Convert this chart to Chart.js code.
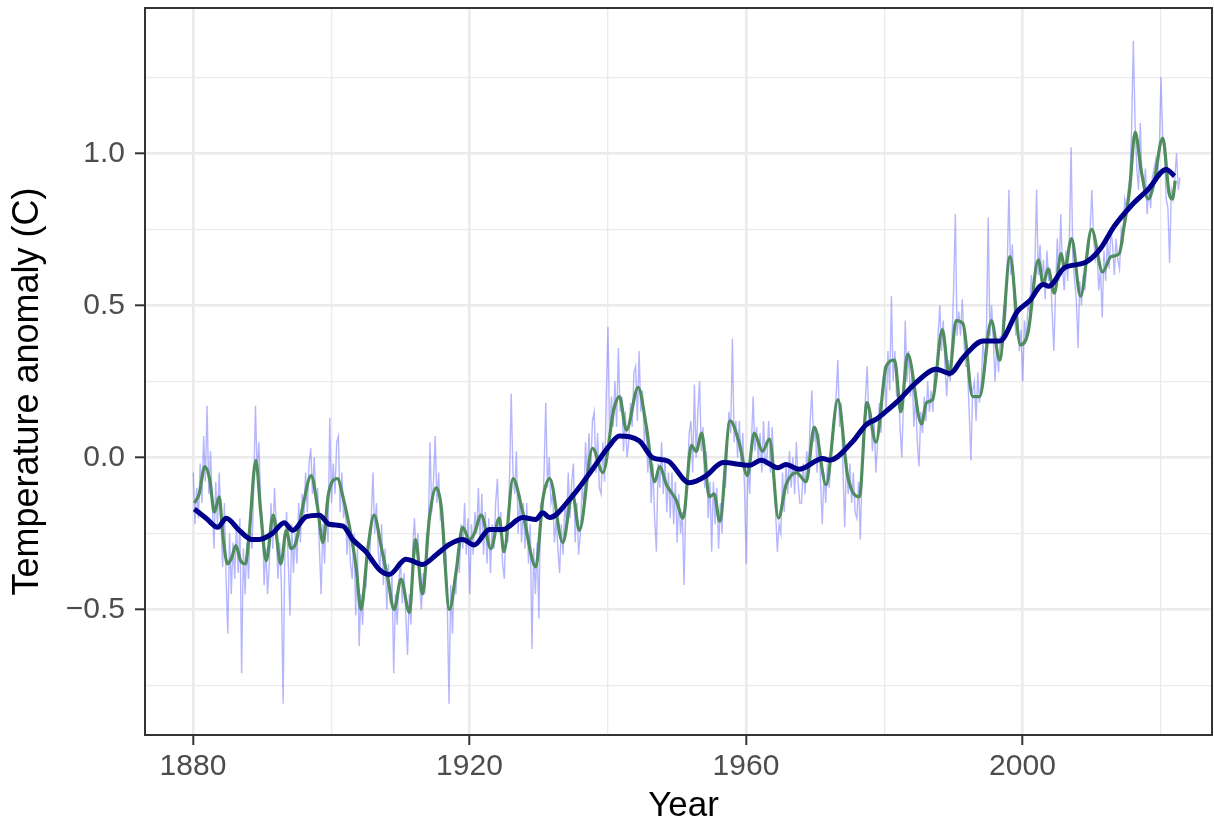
<!DOCTYPE html>
<html>
<head>
<meta charset="utf-8">
<script src="https://cdn.jsdelivr.net/npm/chart.js@4.4.1/dist/chart.umd.min.js"></script>
<style>
  html, body { margin: 0; padding: 0; background: #fff; }
  #wrap { width: 1214px; height: 826px; }
</style>
</head>
<body>
<div id="wrap"><canvas id="temp-chart"></canvas></div>
<script>
// monthly anomaly, sampled four times a year from 1880
const monthlyStart = 1880.04
const monthlyAnom = [
  -0.05, -0.22, -0.10, -0.20,
  -0.02, -0.15, 0.07, -0.08,
  0.17, -0.12, 0.02, -0.15,
  -0.30, -0.08, -0.22, -0.05,
  -0.20, -0.36, -0.15, -0.40,
  -0.58, -0.25, -0.45, -0.28,
  -0.40, -0.22, -0.38, -0.20,
  -0.71, -0.30, -0.45, -0.28,
  -0.40, -0.22, -0.30, -0.10,
  0.17, -0.05, 0.05, -0.15,
  -0.20, -0.42, -0.30, -0.45,
  -0.35, -0.15, -0.30, -0.10,
  -0.22, -0.40, -0.28, -0.42,
  -0.81, -0.30, -0.18, -0.35,
  -0.52, -0.22, -0.38, -0.25,
  -0.35, -0.15, -0.28, -0.12,
  -0.20, -0.05, -0.18, -0.02,
  0.03, -0.12, 0.00, -0.15,
  -0.10, -0.30, -0.45, -0.22,
  -0.35, -0.15, -0.28, 0.13,
  -0.15, -0.02, -0.12, 0.05,
  0.07, -0.18, -0.05, -0.20,
  -0.15, -0.32, -0.22, -0.35,
  -0.40, -0.25, -0.52, -0.30,
  -0.62, -0.45, -0.55, -0.40,
  -0.42, -0.28, -0.35, -0.20,
  -0.05, -0.25, -0.15, -0.30,
  -0.38, -0.22, -0.42, -0.30,
  -0.50, -0.35, -0.48, -0.38,
  -0.71, -0.45, -0.55, -0.40,
  -0.35, -0.48, -0.38, -0.52,
  -0.65, -0.45, -0.55, -0.30,
  -0.20, -0.32, -0.25, -0.42,
  -0.50, -0.38, -0.45, -0.25,
  -0.25, 0.05, -0.18, -0.08,
  0.07, -0.15, -0.05, -0.20,
  -0.18, -0.35, -0.28, -0.48,
  -0.81, -0.42, -0.58, -0.40,
  -0.45, -0.30, -0.38, -0.22,
  -0.30, -0.15, -0.32, -0.20,
  -0.45, -0.22, -0.32, -0.18,
  -0.25, -0.10, -0.28, -0.12,
  -0.32, -0.18, -0.35, -0.20,
  -0.38, -0.22, -0.30, -0.15,
  -0.07, -0.25, -0.18, -0.35,
  -0.40, -0.22, -0.28, -0.08,
  0.21, -0.05, -0.12, 0.02,
  -0.25, -0.12, -0.28, -0.15,
  -0.30, -0.15, -0.35, -0.22,
  -0.63, -0.30, -0.45, -0.28,
  -0.53, -0.15, -0.20, -0.05,
  0.18, -0.10, 0.00, -0.15,
  -0.12, -0.28, -0.20, -0.30,
  -0.38, -0.22, -0.32, -0.15,
  -0.22, -0.05, -0.20, -0.08,
  -0.02, -0.28, -0.15, -0.32,
  -0.25, -0.10, -0.15, 0.05,
  -0.08, 0.08, -0.05, 0.12,
  0.15, -0.05, 0.08, -0.10,
  -0.12, 0.05, -0.08, 0.20,
  0.43, 0.05, 0.20, 0.10,
  0.25, 0.10, 0.36, 0.15,
  0.20, 0.02, 0.15, 0.00,
  0.05, 0.18, 0.10, 0.28,
  0.30, 0.12, 0.35, 0.15,
  0.22, 0.05, 0.12, -0.05,
  0.05, -0.15, -0.02, -0.20,
  -0.31, -0.02, -0.10, 0.05,
  -0.12, 0.00, -0.18, -0.05,
  -0.20, -0.05, -0.22, -0.08,
  -0.28, -0.12, -0.25, -0.18,
  -0.42, -0.15, -0.05, 0.08,
  0.12, -0.05, 0.24, 0.00,
  0.15, 0.25, 0.02, 0.10,
  -0.10, 0.02, -0.20, -0.08,
  -0.31, -0.08, -0.22, -0.10,
  -0.30, -0.15, -0.25, -0.05,
  -0.10, 0.05, 0.15, 0.08,
  0.39, 0.05, 0.12, 0.00,
  0.12, -0.02, 0.08, -0.10,
  -0.35, -0.02, -0.12, 0.05,
  0.20, 0.02, 0.10, -0.02,
  0.08, -0.05, 0.12, -0.02,
  0.00, 0.12, -0.05, 0.10,
  -0.05, -0.18, -0.31, -0.22,
  -0.25, -0.05, -0.18, -0.02,
  -0.12, 0.02, -0.10, 0.00,
  -0.12, 0.05, -0.08, -0.15,
  -0.15, -0.02, -0.12, 0.02,
  -0.05, 0.12, 0.22, 0.05,
  0.10, -0.05, 0.08, -0.08,
  -0.22, -0.05, -0.15, -0.02,
  -0.10, 0.00, 0.08, 0.15,
  0.20, 0.32, 0.10, 0.18,
  -0.05, -0.23, 0.00, -0.12,
  -0.02, -0.15, -0.05, -0.18,
  -0.20, -0.08, -0.27, -0.05,
  0.05, 0.20, 0.30, 0.10,
  0.15, 0.02, 0.12, -0.05,
  0.05, 0.18, 0.08, 0.25,
  0.30, 0.15, 0.35, 0.22,
  0.53, 0.25, 0.35, 0.20,
  0.25, 0.10, 0.00, 0.18,
  0.45, 0.25, 0.35, 0.20,
  0.28, 0.10, 0.20, 0.05,
  -0.03, 0.15, 0.08, 0.20,
  0.12, 0.25, 0.15, 0.22,
  0.15, 0.30, 0.25, 0.40,
  0.50, 0.35, 0.45, 0.30,
  0.20, 0.32, 0.25, 0.38,
  0.55, 0.80, 0.40, 0.48,
  0.40, 0.52, 0.38, 0.30,
  0.30, 0.15, -0.01, 0.22,
  0.25, 0.12, 0.28, 0.18,
  0.25, 0.38, 0.30, 0.42,
  0.79, 0.40, 0.50, 0.38,
  0.25, 0.38, 0.28, 0.40,
  0.35, 0.50, 0.45, 0.62,
  0.88, 0.60, 0.70, 0.50,
  0.40, 0.48, 0.35, 0.42,
  0.25, 0.45, 0.38, 0.50,
  0.48, 0.60, 0.52, 0.62,
  0.88, 0.60, 0.70, 0.58,
  0.65, 0.52, 0.68, 0.58,
  0.62, 0.48, 0.35, 0.55,
  0.72, 0.58, 0.80, 0.62,
  0.55, 0.68, 0.58, 0.72,
  1.02, 0.65, 0.58, 0.52,
  0.36, 0.58, 0.50, 0.60,
  0.55, 0.65, 0.68, 0.75,
  0.88, 0.72, 0.65, 0.68,
  0.55, 0.62, 0.46, 0.68,
  0.58, 0.72, 0.62, 0.75,
  0.70, 0.60, 0.72, 0.65,
  0.62, 0.75, 0.72, 0.85,
  0.82, 0.88, 0.92, 1.08,
  1.37, 1.10, 0.95, 0.88,
  1.10, 0.92, 0.88, 0.95,
  0.80, 0.90, 0.82, 0.92,
  0.95, 0.98, 0.92, 1.01,
  1.25, 1.05, 1.00, 0.85,
  0.82, 0.64, 0.88, 0.85,
  0.92, 1.00, 0.88, 0.92,
]

// short-term smooth (green)
const shortYears = [
  1880.2, 1880.9, 1881.7, 1882.4, 1883.1, 1883.8, 1884.3, 1885.0, 1885.6, 1886.2,
  1886.9, 1887.6, 1888.1, 1889.1, 1889.8, 1890.6, 1891.6, 1892.7, 1893.5, 1894.2,
  1894.9, 1895.9, 1897.1, 1898.0, 1898.8, 1899.6, 1900.9, 1901.7, 1902.9, 1903.6,
  1904.3, 1905.3, 1906.2, 1907.2, 1908.2, 1909.1, 1910.1, 1911.3, 1912.2, 1913.2,
  1914.2, 1915.2, 1915.9, 1917.1, 1918.1, 1919.0, 1920.0, 1920.7, 1921.7, 1923.1,
  1924.3, 1925.0, 1926.3, 1927.7, 1929.6, 1930.6, 1931.6, 1933.5, 1934.9, 1935.9,
  1937.8, 1939.3, 1940.9, 1941.7, 1942.7, 1944.4, 1945.6, 1946.8, 1947.5, 1948.5,
  1949.9, 1950.9, 1952.1, 1952.8, 1953.6, 1954.7, 1955.4, 1956.2, 1957.7, 1959.0,
  1960.2, 1961.2, 1962.4, 1963.4, 1964.7, 1965.8, 1967.3, 1968.7, 1969.9, 1971.6,
  1973.3, 1974.7, 1976.4, 1977.5, 1978.8, 1980.3, 1981.5, 1982.4, 1983.4, 1985.4,
  1986.1, 1987.0, 1988.4, 1989.4, 1990.4, 1991.4, 1992.8, 1993.8, 1995.5, 1996.7,
  1998.2, 1999.7, 2000.8, 2002.3, 2003.0, 2003.7, 2004.6, 2005.6, 2006.1, 2007.1,
  2008.4, 2010.0, 2011.6, 2012.8, 2014.0, 2014.7, 2015.5, 2016.3, 2017.2, 2018.2,
  2018.9, 2020.3, 2021.2, 2021.7, 2022.1,
]
const shortAnom = [
  -0.15, -0.12, -0.03, -0.07, -0.18, -0.13, -0.25, -0.35, -0.33, -0.29,
  -0.34, -0.35, -0.26, -0.01, -0.18, -0.34, -0.19, -0.35, -0.24, -0.30,
  -0.28, -0.16, -0.06, -0.16, -0.28, -0.12, -0.07, -0.13, -0.26, -0.36,
  -0.50, -0.30, -0.19, -0.29, -0.40, -0.50, -0.40, -0.51, -0.27, -0.45,
  -0.20, -0.10, -0.16, -0.50, -0.37, -0.23, -0.27, -0.25, -0.19, -0.30,
  -0.20, -0.31, -0.07, -0.18, -0.36, -0.14, -0.07, -0.28, -0.12, -0.24,
  0.03, -0.05, 0.16, 0.20, 0.09, 0.23, 0.10, -0.08, -0.03, -0.09,
  -0.14, -0.20, 0.04, 0.02, 0.08, -0.13, -0.12, -0.21, 0.12, 0.05,
  -0.06, 0.08, 0.02, 0.06, -0.20, -0.09, -0.05, -0.08, 0.10, -0.09,
  0.19, -0.06, -0.13, 0.18, 0.05, 0.30, 0.32, 0.15, 0.34, 0.11,
  0.18, 0.19, 0.42, 0.27, 0.45, 0.44, 0.20, 0.20, 0.45, 0.32,
  0.66, 0.37, 0.41, 0.65, 0.57, 0.62, 0.54, 0.67, 0.62, 0.72,
  0.53, 0.75, 0.61, 0.66, 0.67, 0.76, 0.88, 1.07, 0.94, 0.85,
  0.89, 1.05, 0.87, 0.85, 0.91,
]

// long-term trend (navy)
const trendYears = [
  1880.2, 1881.9, 1883.6, 1884.8, 1886.7, 1888.5, 1889.6, 1891.5, 1893.2, 1894.4,
  1896.4, 1898.3, 1899.7, 1901.7, 1903.1, 1905.0, 1907.0, 1908.4, 1910.8, 1913.2,
  1915.2, 1917.1, 1919.0, 1920.7, 1922.9, 1924.8, 1927.7, 1929.6, 1930.6, 1931.6,
  1934.5, 1937.8, 1940.2, 1941.7, 1944.6, 1946.5, 1948.7, 1951.8, 1952.8, 1954.2,
  1956.7, 1960.5, 1962.2, 1964.6, 1965.8, 1967.7, 1971.1, 1972.1, 1975.5, 1977.4,
  1978.8, 1980.3, 1982.2, 1984.6, 1987.5, 1989.5, 1991.4, 1994.3, 1996.7, 1999.3,
  2001.0, 2003.0, 2003.8, 2006.1, 2009.0, 2011.2, 2013.3, 2015.7, 2018.2, 2020.8,
  2022.0,
]
const trendAnom = [
  -0.17, -0.20, -0.23, -0.20, -0.24, -0.27, -0.27, -0.25, -0.215, -0.24,
  -0.195, -0.19, -0.22, -0.226, -0.27, -0.31, -0.37, -0.385, -0.335, -0.352,
  -0.32, -0.286, -0.27, -0.288, -0.237, -0.237, -0.198, -0.204, -0.182, -0.198,
  -0.138, -0.039, 0.037, 0.07, 0.054, -0.001, -0.012, -0.083, -0.078, -0.061,
  -0.017, -0.026, -0.009, -0.034, -0.023, -0.039, -0.004, -0.009, 0.054, 0.108,
  0.125, 0.152, 0.19, 0.246, 0.29, 0.276, 0.328, 0.383, 0.383, 0.481,
  0.514, 0.569, 0.563, 0.624, 0.64, 0.684, 0.761, 0.827, 0.882, 0.947,
  0.925,
]

const yearTicks = [1880, 1900, 1920, 1940, 1960, 1980, 2000, 2020]
const anomTicks = [-0.75, -0.5, -0.25, 0, 0.25, 0.5, 0.75, 1.0, 1.25]

const isMajorYear = v => (v - 1880) % 40 === 0
const isMajorAnom = v => Math.abs(Math.round(v * 2) - v * 2) < 1e-6

const fontFamily = "'Liberation Sans', Arial, Helvetica, sans-serif"

// ggplot style panel border
const panelBorder = {
  id: 'panelBorder',
  afterDraw(chart) {
    const {ctx, chartArea: a} = chart
    ctx.save()
    ctx.strokeStyle = '#333333'
    ctx.lineWidth = 2
    ctx.strokeRect(a.left, a.top, a.right - a.left, a.bottom - a.top)
    ctx.restore()
  }
}

// axis titles, placed where the original has them (a little off the panel centre)
const axisTitles = {
  id: 'axisTitles',
  afterDraw(chart) {
    const {ctx, chartArea: a} = chart
    ctx.save()
    ctx.fillStyle = '#000000'
    ctx.textAlign = 'center'
    ctx.textBaseline = 'middle'
    ctx.font = '35px ' + fontFamily
    ctx.fillText('Year', (a.left + a.right) / 2 + 5, 806)
    ctx.translate(28, (a.top + a.bottom) / 2 + 20)
    ctx.rotate(-Math.PI / 2)
    ctx.font = '36px ' + fontFamily
    ctx.fillText('Temperature anomaly (C)', 0, 0)
    ctx.restore()
  }
}

// drop the half-label padding chart.js adds at the axis ends
const noEndPadding = s => {
  s.paddingTop = 0
  s.paddingBottom = 0
  s.paddingLeft = 0
  s.paddingRight = 0
}

const monthlyPoints = monthlyAnom.map((v, i) => ({x: monthlyStart + i * 0.25, y: v}))
const shortPoints = shortYears.map((yr, i) => ({x: yr, y: shortAnom[i]}))
const trendPoints = trendYears.map((yr, i) => ({x: yr, y: trendAnom[i]}))

const tempConfig = {
  type: 'line',
  data: {
    datasets: [
      {
        label: 'trend',
        data: trendPoints,
        borderColor: '#00008b',
        borderWidth: 5,
        pointRadius: 0,
        cubicInterpolationMode: 'monotone',
        order: 1,
      },
      {
        label: 'smooth',
        data: shortPoints,
        borderColor: '#4f8c5e',
        borderWidth: 3.2,
        pointRadius: 0,
        cubicInterpolationMode: 'monotone',
        order: 2,
      },
      {
        label: 'monthly',
        data: monthlyPoints,
        borderColor: 'rgba(80, 80, 255, 0.42)',
        borderWidth: 1.4,
        pointRadius: 0,
        tension: 0,
        order: 3,
      },
    ],
  },
  options: {
    responsive: true,
    maintainAspectRatio: false,
    animation: false,
    layout: {padding: {top: 8, right: 2, left: 0, bottom: 0}},
    plugins: {
      legend: {display: false},
      tooltip: {enabled: false},
    },
    scales: {
      x: {
        type: 'linear',
        min: 1873.06,
        max: 2027.42,
        afterFit: s => { s.height = 91; noEndPadding(s) },
        afterBuildTicks: s => { s.ticks = yearTicks.map(v => ({value: v})) },
        border: {display: false},
        grid: {
          color: '#ebebeb',
          lineWidth: c => isMajorYear(c.tick.value) ? 2.6 : 1.3,
          tickColor: c => isMajorYear(c.tick.value) ? '#333333' : 'rgba(0,0,0,0)',
          tickWidth: 2,
          tickLength: 10,
        },
        ticks: {
          autoSkip: false,
          maxRotation: 0,
          padding: 4,
          color: '#4d4d4d',
          font: {family: fontFamily, size: 30},
          callback: v => isMajorYear(v) ? String(v) : '',
        },
        title: {display: false},
      },
      y: {
        type: 'linear',
        min: -0.913,
        max: 1.478,
        afterFit: s => { s.width = 145; noEndPadding(s) },
        afterBuildTicks: s => { s.ticks = anomTicks.map(v => ({value: v})) },
        border: {display: false},
        grid: {
          color: '#ebebeb',
          lineWidth: c => isMajorAnom(c.tick.value) ? 2.6 : 1.3,
          tickColor: c => isMajorAnom(c.tick.value) ? '#333333' : 'rgba(0,0,0,0)',
          tickWidth: 2,
          tickLength: 10,
        },
        ticks: {
          autoSkip: false,
          padding: 10,
          color: '#4d4d4d',
          font: {family: fontFamily, size: 30},
          callback: v => {
            if (!isMajorAnom(v)) return ''
            const s = v.toFixed(1)
            return s.replace('-', '\u2212')
          },
        },
        title: {display: false},
      },
    },
  },
  plugins: [panelBorder, axisTitles],
}

const ctx = document.getElementById('temp-chart')
const tempChart = new Chart(ctx, tempConfig)
</script>
</body>
</html>
